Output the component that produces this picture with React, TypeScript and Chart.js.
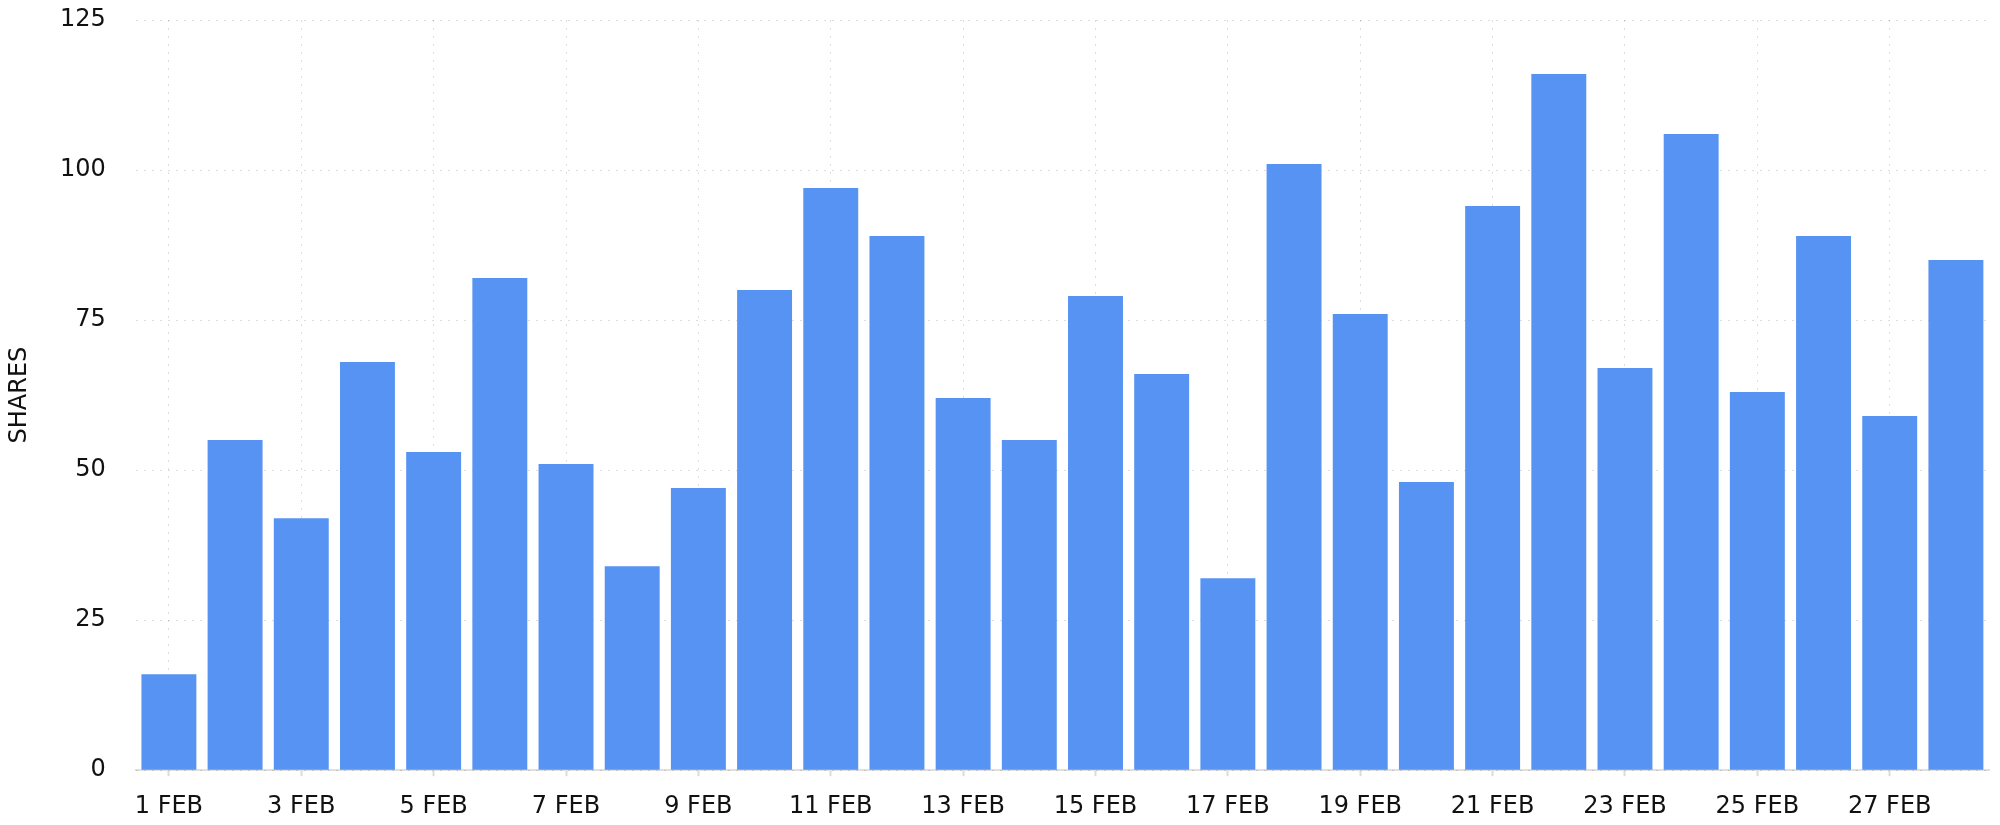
import React, { useEffect, useRef } from 'react';
import { Chart, registerables } from 'chart.js';

Chart.register(...registerables);

const days: string[] = Array.from({ length: 28 }, (_, i) => `${i + 1} FEB`);
const shares: number[] = [
  16, 55, 42, 68, 53, 82, 51, 34, 47, 80, 97, 89, 62, 55,
  79, 66, 32, 101, 76, 48, 94, 116, 67, 106, 63, 89, 59, 85,
];
const yMax = 125;
const yStep = 25;

const barColor = 'rgb(87, 147, 243)';
const gridColor = 'rgba(0, 0, 0, 0.13)';
const fontFamily = '"DejaVu Sans", sans-serif';

const App: React.FC = () => {
  const canvasRef = useRef<HTMLCanvasElement | null>(null);

  useEffect(() => {
    const canvas = canvasRef.current;
    if (!canvas) return;
    const ctx = canvas.getContext('2d');
    if (!ctx) return;

    const chart = new Chart(ctx, {
      type: 'bar',
      data: {
        labels: days,
        datasets: [
          {
            label: 'Shares',
            data: shares,
            backgroundColor: barColor,
            borderWidth: 0,
            categoryPercentage: 1,
            barPercentage: 0.83,
          },
        ],
      },
      options: {
        animation: false,
        responsive: true,
        maintainAspectRatio: false,
        plugins: {
          legend: { display: false },
          tooltip: { enabled: false },
        },
        layout: { padding: { right: 3 } },
        scales: {
          x: {
            grid: {
              offset: false,
              color: gridColor,
              drawTicks: true,
              tickLength: 6,
              tickColor: 'rgba(0, 0, 0, 0.14)',
              tickWidth: 2,
            },
            border: { display: true, color: 'rgba(0, 0, 0, 0.12)', width: 2, dash: [2, 6] },
            ticks: {
              autoSkip: true,
              maxRotation: 0,
              minRotation: 0,
              padding: 16,
              color: '#111',
              font: { family: fontFamily, size: 24 },
            },
          },
          y: {
            min: 0,
            max: yMax,
            grid: {
              color: gridColor,
              drawTicks: true,
              tickLength: 30,
              tickColor: 'rgba(0, 0, 0, 0)',
            },
            border: { display: false, dash: [2, 6] },
            ticks: {
              stepSize: yStep,
              padding: 0,
              color: '#111',
              font: { family: fontFamily, size: 24, lineHeight: 1 },
            },
            title: {
              display: true,
              text: 'SHARES',
              color: '#111',
              padding: { top: 0, bottom: 28 },
              font: { family: fontFamily, size: 24, lineHeight: 1 },
            },
          },
        },
      },
    });

    return () => {
      chart.destroy();
    };
  }, []);

  return (
    <div style={{ position: 'relative', width: '100%', height: 829 }}>
      <canvas ref={canvasRef} />
    </div>
  );
};

export default App;
